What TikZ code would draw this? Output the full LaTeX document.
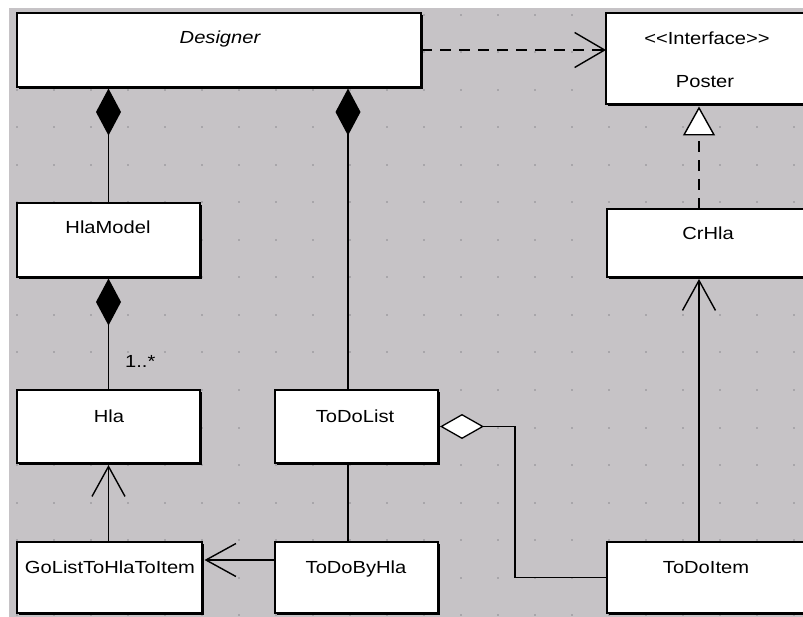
\documentclass[tikz,border=0pt]{standalone}
\usepackage{fontspec}
\newfontfamily\umlfont{Liberation Sans}[FakeStretch=1.15]
\usetikzlibrary{arrows.meta,shadows}
\definecolor{bggray}{RGB}{198,195,198}
\definecolor{dotgray}{RGB}{168,166,170}
\begin{document}
\begin{tikzpicture}[x=1pt,y=-1pt,
  box/.style={draw=black, fill=white, line width=1.3pt, inner sep=0pt, outer sep=0pt, anchor=north west,
     general shadow={fill=black, shadow xshift=2pt, shadow yshift=-2pt}},
  lbl/.style={font=\umlfont\fontsize{17.5}{20}\selectfont, inner sep=0pt, anchor=base},
  conn/.style={line width=1.5pt, draw=black},
  dashconn/.style={conn, dash pattern=on 11pt off 8pt},
  openarrow/.style={-{Straight Barb[length=30pt,width=33pt,line width=1.4pt]}},
  compo/.style={-{Diamond[length=47pt,width=25pt]}},
  aggreg/.style={-{Diamond[open,fill=white,length=44pt,width=25pt,line width=1.3pt]}},
  realiz/.style={-{Triangle[open,fill=white,length=29pt,width=32pt,line width=1.4pt]}}
]
\useasboundingbox (0,0) rectangle (803,617);
\clip (0,0) rectangle (803,617);
\fill[white] (0,0) rectangle (803,617);
\fill[bggray] (9,8) rectangle (803,617);
\foreach \i in {0,...,21}{\foreach \j in {0,...,16}{
  \fill[dotgray] ({15.5+37*\i},{14+37.5*\j}) rectangle ++(2,2);}}

% boxes
\node[box, minimum width=404, minimum height=74] (designer) at (17,13) {};
\node[box, minimum width=204, minimum height=91] (poster) at (606,13) {};
\node[box, minimum width=183, minimum height=74] (hlamodel) at (17,203) {};
\node[box, minimum width=203, minimum height=68] (crhla) at (607,209) {};
\node[box, minimum width=183, minimum height=73] (hla) at (17,390) {};
\node[box, minimum width=163, minimum height=73] (todolist) at (275,390) {};
\node[box, minimum width=185, minimum height=71] (golist) at (17,542) {};
\node[box, minimum width=163, minimum height=71] (todobyhla) at (275,542) {};
\node[box, minimum width=203, minimum height=71] (todoitem) at (607,542) {};

% labels
\node[lbl] (tdesigner) at (220,44) {\itshape Designer};
\node[lbl] (tinterface) at (707,45) {<\kern0pt<Interface>\kern0pt>};
\node[lbl] (tposter) at (705,88) {Poster};
\node[lbl] (thlamodel) at (108,234) {HlaModel};
\node[lbl] (tcrhla) at (708,240) {CrHla};
\node[lbl] (thla) at (109,422) {Hla};
\node[lbl] (ttodolist) at (355,422) {ToDoList};
\node[lbl] (tgolist) at (110,573) {GoListToHlaToItem};
\node[lbl] (ttodobyhla) at (356,573) {ToDoByHla};
\node[lbl] (ttodoitem) at (706,573) {ToDoItem};
\node[lbl, anchor=base west] (tmult) at (125,368) {1..*};

% helper coordinates
\coordinate (xtodo) at (348,0);
\coordinate (xright) at (699,0);
\coordinate (yby) at (0,560);

% connectors
\draw[dashconn, -{Straight Barb[length=30pt,width=35pt,line width=1.4pt]}] (designer.east) -- (designer.east -| poster.west);
\draw[dashconn, realiz, shorten >=2.5pt] (xright |- crhla.north) -- (xright |- poster.south);
\draw[conn, compo, shorten >=1.5pt] (hlamodel.north) -- (hlamodel.north |- designer.south);
\draw[conn, compo, shorten >=1.5pt] (xtodo |- todolist.north) -- (xtodo |- designer.south);
\draw[conn, compo, shorten >=1.5pt] (hla.north) -- (hla.north |- hlamodel.south);
\draw[conn, openarrow, shorten >=2pt] (hla.south |- golist.north) -- (hla.south);
\draw[conn, openarrow, shorten >=2.5pt] (yby -| todobyhla.west) -- (yby -| golist.east);
\draw[conn] (xtodo |- todolist.south) -- (xtodo |- todobyhla.north);
\draw[conn, aggreg, shorten >=2pt] (todoitem.west) -- ++(-92,0) |- (todolist.east);
\draw[conn, openarrow, shorten >=2pt] (xright |- todoitem.north) -- (xright |- crhla.south);
\end{tikzpicture}
\end{document}
